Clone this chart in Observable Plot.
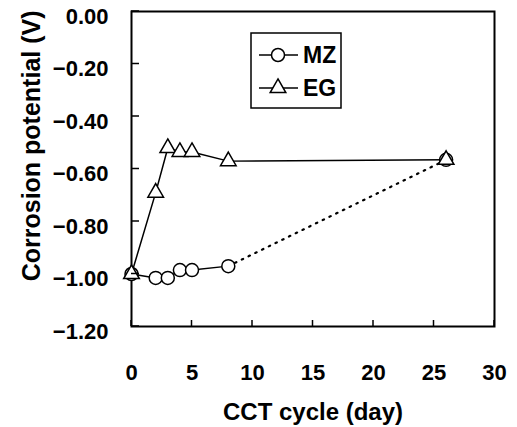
<!DOCTYPE html>
<html><head><meta charset="utf-8">
<script src="https://cdn.jsdelivr.net/npm/d3@7"></script>
<script src="https://cdn.jsdelivr.net/npm/@observablehq/plot@0.6"></script>
<style>body{margin:0;background:#fff} svg{display:block}</style>
</head><body><div id="chart"></div>
<script>
const cycles = [0, 2, 3, 4, 5, 8, 26];
const mzValues = [-1.00, -1.015, -1.015, -0.985, -0.985, -0.97, -0.565];
const egValues = [-1.00, -0.69, -0.52, -0.535, -0.535, -0.57, -0.565];
const seriesNames = ["MZ", "EG"];
const xTicks = [0, 5, 10, 15, 20, 25, 30];
const yTicks = [0, -0.2, -0.4, -0.6, -0.8, -1.0, -1.2];
const xLabel = "CCT cycle (day)";
const yLabel = "Corrosion potential (V)";

const mz = cycles.map((x, i) => ({x, y: mzValues[i]}));
const eg = cycles.map((x, i) => ({x, y: egValues[i]}));
const mzSolid = mz.filter(d => d.x <= 8);
const mzDotted = mz.filter(d => d.x >= 8);

const FONT = "'Liberation Sans', Arial, sans-serif";
const fmt = d3.format(".2f");

const chart = Plot.plot({
  width: 517, height: 427,
  marginLeft: 131, marginRight: 23, marginTop: 11, marginBottom: 101,
  style: {fontFamily: FONT, fontSize: "22px", fontWeight: "bold", color: "#000", background: "#fff"},
  x: {domain: [0, 30]},
  y: {domain: [-1.2, 0]},
  marks: [
    Plot.axisX({ticks: xTicks, tickSize: 0, tickPadding: 38, label: null}),
    Plot.axisY({ticks: yTicks, tickSize: 0, tickPadding: 23, tickFormat: fmt, dy: 5, label: null}),
    Plot.text([xLabel], {frameAnchor: "bottom", dy: 86, fontSize: 24, lineAnchor: "middle"}),
    Plot.text([yLabel], {frameAnchor: "top-left", rotate: -90, textAnchor: "end", lineAnchor: "middle", dx: -100, dy: -1, fontSize: 25}),
    Plot.frame({stroke: "#000", strokeWidth: 2}),
    Plot.line(eg, {x: "x", y: "y", stroke: "#000", strokeWidth: 1.5}),
    Plot.line(mzSolid, {x: "x", y: "y", stroke: "#000", strokeWidth: 1.5}),
    Plot.line(mzDotted, {x: "x", y: "y", stroke: "#000", strokeWidth: 2.2, strokeDasharray: "1.5,6", strokeLinecap: "round"}),
    Plot.dot(mz, {x: "x", y: "y", r: 6.5, symbol: "circle", fill: "#fff", stroke: "#000", strokeWidth: 1.5}),
    Plot.dot(eg, {x: "x", y: "y", r: 5.8, symbol: "triangle", fill: "#fff", stroke: "#000", strokeWidth: 1.5})
  ]
});
document.getElementById("chart").append(chart);

const svg = d3.select(chart);
const xs = chart.scale("x"), ys = chart.scale("y");
const x0 = xs.apply(xs.domain[0]), y0 = ys.apply(ys.domain[0]);

// inward ticks
const tk = svg.insert("g", ":first-child").attr("stroke", "#000").attr("stroke-width", 1.5);
svg.node().appendChild(tk.node());
yTicks.forEach(v => {
  const y = ys.apply(v);
  tk.append("line").attr("x1", x0).attr("x2", x0 + 8).attr("y1", y).attr("y2", y);
});
xTicks.forEach(v => {
  const x = xs.apply(v);
  tk.append("line").attr("x1", x).attr("x2", x).attr("y1", y0).attr("y2", y0 - 6);
});

// legend
const lg = svg.append("g").attr("text-anchor", "start");
lg.append("rect").attr("x", 251).attr("y", 33).attr("width", 90).attr("height", 75)
  .attr("fill", "#fff").attr("stroke", "#000").attr("stroke-width", 1.5);
const symbols = [d3.symbolCircle, d3.symbolTriangle];
const sizes = [Math.PI * 6.5 * 6.5, Math.PI * 5.8 * 5.8];
seriesNames.forEach((name, i) => {
  const cy = 55 + i * 33;
  lg.append("line").attr("x1", 259).attr("x2", 298).attr("y1", cy).attr("y2", cy)
    .attr("stroke", "#000").attr("stroke-width", 1.5);
  lg.append("path").attr("transform", `translate(278,${cy})`)
    .attr("d", d3.symbol(symbols[i], sizes[i])())
    .attr("fill", "#fff").attr("stroke", "#000").attr("stroke-width", 1.5);
  lg.append("text").attr("x", 303).attr("y", cy + 8).text(name)
    .attr("font-family", FONT).attr("font-size", 23).attr("font-weight", "bold");
});
</script></body></html>
